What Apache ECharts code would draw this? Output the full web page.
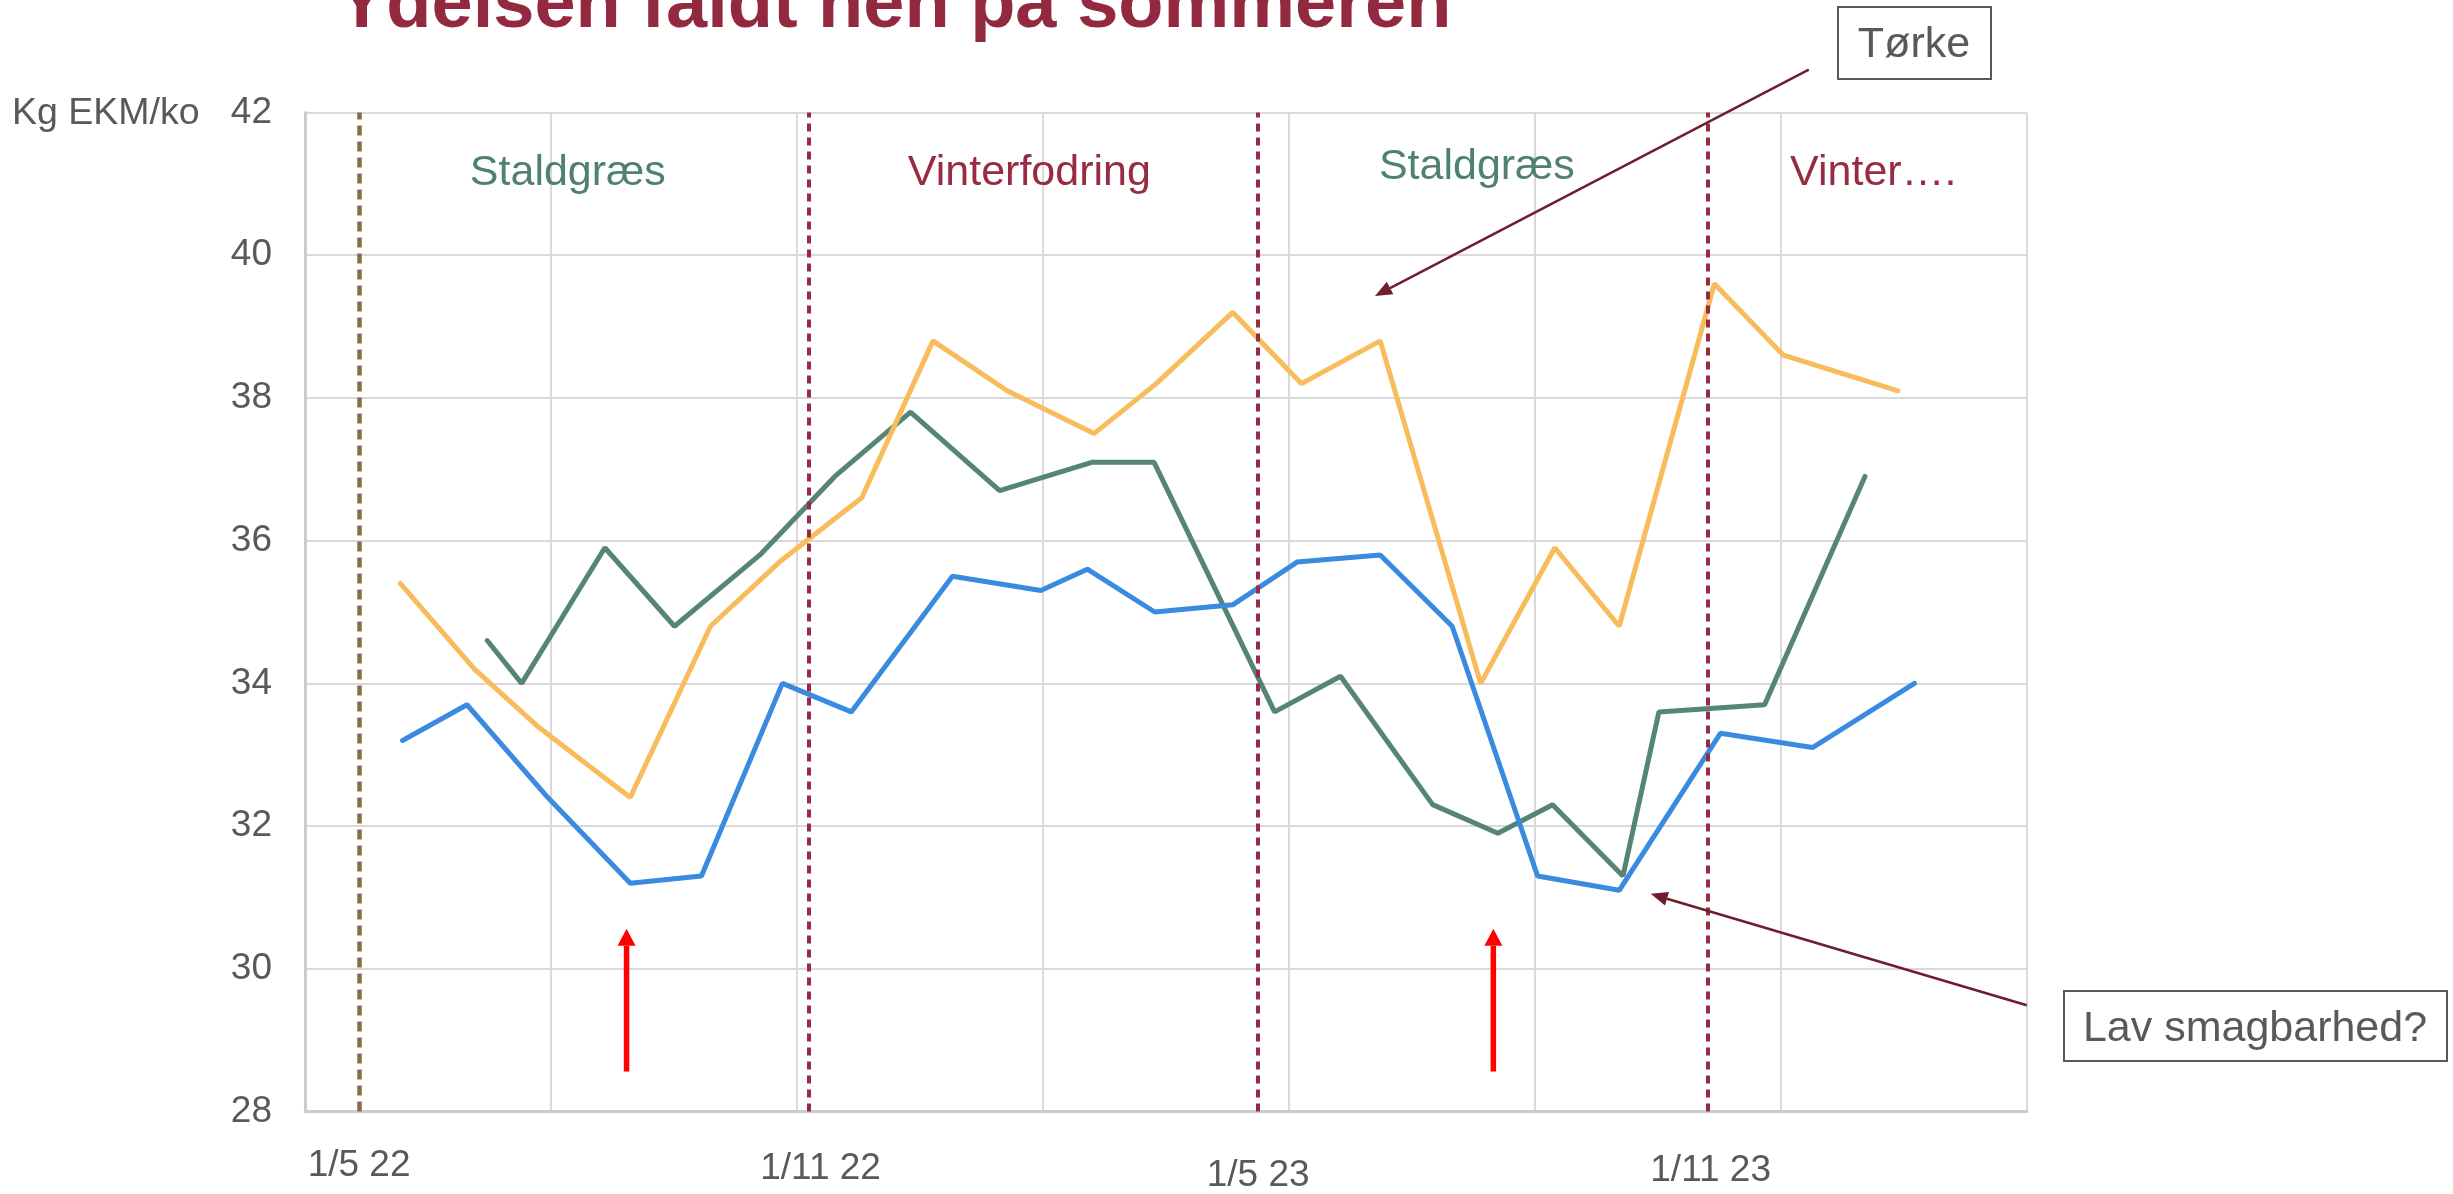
<!DOCTYPE html>
<html>
<head>
<meta charset="utf-8">
<title>Ydelsen faldt hen på sommeren</title>
<script src="https://cdn.jsdelivr.net/npm/echarts@6/dist/echarts.min.js"></script>
<style>
  html, body { margin: 0; padding: 0; background: #fff; }
  #chart { width: 2453px; height: 1194px; }
</style>
</head>
<body>
<div id="chart"></div>
<script>
  // x = maaned talt fra jan 2022 (maj 22 = 4), y = kg EKM/ko
  const blueMonths = [4.58, 5.44, 6.52, 7.62, 8.57, 9.65, 10.57, 11.92, 13.10, 13.72, 14.62, 15.66, 16.52, 17.63, 18.59, 19.73, 20.82, 22.17, 23.40, 24.76]
  const blueKg = [33.2, 33.7, 32.4, 31.2, 31.3, 34.0, 33.6, 35.5, 35.3, 35.6, 35.0, 35.1, 35.7, 35.8, 34.8, 31.3, 31.1, 33.3, 33.1, 34.0]
  const orangeMonths = [4.55, 5.54, 6.38, 7.62, 8.69, 9.61, 10.71, 11.66, 12.65, 13.81, 14.64, 15.66, 16.58, 17.63, 18.97, 19.96, 20.82, 22.09, 23.01, 24.54]
  const orangeKg = [35.4, 34.2, 33.4, 32.4, 34.8, 35.7, 36.6, 38.8, 38.1, 37.5, 38.2, 39.2, 38.2, 38.8, 34.0, 35.9, 34.8, 39.6, 38.6, 38.1]
  const greenMonths = [5.71, 6.17, 7.28, 8.21, 9.35, 10.35, 11.36, 12.55, 13.79, 14.61, 16.22, 17.10, 18.33, 19.20, 19.93, 20.87, 21.35, 22.76, 24.10]
  const greenKg = [34.6, 34.0, 35.9, 34.8, 35.8, 36.9, 37.8, 36.7, 37.1, 37.1, 33.6, 34.1, 32.3, 31.9, 32.3, 31.3, 33.6, 33.7, 36.9]

  const periodStarts = [4, 10, 16, 22]
  const periodTicks = ['1/5 22', '1/11 22', '1/5 23', '1/11 23']
  const periodNames = ['Staldgræs', 'Vinterfodring', 'Staldgræs', 'Vinter….']

  const titleText = 'Ydelsen faldt hen på sommeren'
  const yName = 'Kg EKM/ko'
  const droughtText = 'Tørke'
  const tasteText = 'Lav smagbarhed?'
  // pile: [fra, til] i (maaned, kg)
  const droughtArrow = [[23.35, 42.60], [17.56, 39.43]]
  const tasteArrow = [[26.26, 29.49], [21.24, 31.05]]
  const redArrows = [[[7.57, 28.56], [7.57, 30.56]], [[19.14, 28.56], [19.14, 30.56]]]

  const xMin = 3.278
  const xMax = 26.263
  const font = '"Liberation Sans", Arial, sans-serif'
  const grey = '#595959'
  const wine = '#972B3F'
  const periodColors = ['#4F8170', wine, '#4F8170', wine]
  const periodOffsets = [[-16, 0], [-4, 0], [-6, -6], [6, 0]]
  const dashColors = ['#8E6A45', wine, wine, wine]

  const pairs = (xs, ys) => xs.map((x, i) => [x, ys[i]])

  const chart = echarts.init(document.getElementById('chart'))

  const option = {
    animation: false,
    backgroundColor: '#fff',
    grid: { left: 305, right: 426, top: 112.5, bottom: 77 },
    xAxis: [{
      type: 'value',
      min: xMin,
      max: xMax,
      axisLine: { show: true, lineStyle: { color: '#cccccc', width: 3 } },
      axisTick: { show: false },
      splitLine: { show: false },
      axisLabel: {
        customValues: periodStarts,
        margin: 34,
        color: grey,
        fontSize: 37,
        fontFamily: font,
        formatter: val => {
          const i = periodStarts.indexOf(val)
          return '{t' + i + '|' + periodTicks[i] + '}'
        },
        rich: {
          t0: { lineHeight: 41, fontSize: 37, color: grey, fontFamily: font },
          t1: { lineHeight: 47, fontSize: 37, color: grey, fontFamily: font, padding: [0, 0, 0, 24] },
          t2: { lineHeight: 60, fontSize: 37, color: grey, fontFamily: font },
          t3: { lineHeight: 51, fontSize: 37, color: grey, fontFamily: font, padding: [0, 0, 0, 6] }
        }
      }
    }, {
      // kun lodrette gitterlinjer
      type: 'value',
      min: 0,
      max: 7,
      interval: 1,
      position: 'bottom',
      axisLine: { show: false },
      axisTick: { show: false },
      axisLabel: { show: false },
      splitLine: { show: true, lineStyle: { color: '#d9d9d9', width: 2 } }
    }],
    yAxis: {
      type: 'value',
      min: 28,
      max: 42,
      interval: 2,
      axisLine: { show: true, lineStyle: { color: '#cccccc', width: 3 } },
      axisTick: { show: false },
      axisLabel: { margin: 33, color: grey, fontSize: 37, fontFamily: font },
      splitLine: { lineStyle: { color: '#d9d9d9', width: 2 } }
    },
    series: [{
      name: 'green',
      type: 'line',
      data: pairs(greenMonths, greenKg),
      symbol: 'none',
      lineStyle: { color: '#558675', width: 5, cap: 'round' },
      itemStyle: { color: '#558675' },
      markArea: {
        silent: true,
        itemStyle: { color: 'rgba(0,0,0,0)' },
        label: { position: ['50%', 61], align: 'center', verticalAlign: 'middle', fontSize: 43, fontFamily: font },
        data: periodStarts.map((s, i) => [
          { xAxis: s, name: periodNames[i], label: { color: periodColors[i], offset: periodOffsets[i] } },
          { xAxis: i < periodStarts.length - 1 ? periodStarts[i + 1] : xMax }
        ])
      }
    }, {
      name: 'orange',
      type: 'line',
      data: pairs(orangeMonths, orangeKg),
      symbol: 'none',
      lineStyle: { color: '#F8BC5C', width: 5, cap: 'round' },
      itemStyle: { color: '#F8BC5C' }
    }, {
      name: 'blue',
      type: 'line',
      data: pairs(blueMonths, blueKg),
      symbol: 'none',
      lineStyle: { color: '#3A8BDF', width: 5, cap: 'round' },
      itemStyle: { color: '#3A8BDF' },
      markLine: {
        silent: true,
        symbol: 'none',
        label: { show: false },
        data: periodStarts.map((s, i) => ({
          xAxis: s,
          lineStyle: { color: dashColors[i], width: i === 0 ? 4.5 : 4, type: i === 0 ? [10, 6] : [8, 6] }
        }))
      }
    }]
  }

  chart.setOption(option)

  function arrow(from, to, color, width, headLen, headW) {
    const a = chart.convertToPixel({ xAxisIndex: 0, yAxisIndex: 0 }, from)
    const b = chart.convertToPixel({ xAxisIndex: 0, yAxisIndex: 0 }, to)
    const dx = b[0] - a[0]
    const dy = b[1] - a[1]
    const len = Math.sqrt(dx * dx + dy * dy)
    const ux = dx / len
    const uy = dy / len
    const bx = b[0] - ux * headLen
    const by = b[1] - uy * headLen
    return [{
      type: 'line', silent: true, z: 50,
      shape: { x1: a[0], y1: a[1], x2: bx, y2: by },
      style: { stroke: color, lineWidth: width }
    }, {
      type: 'polygon', silent: true, z: 50,
      shape: { points: [[b[0], b[1]], [bx - uy * headW / 2, by + ux * headW / 2], [bx + uy * headW / 2, by - ux * headW / 2]] },
      style: { fill: color }
    }]
  }

  const graphic = [{
    type: 'text', x: 337, y: 7, z: 50,
    style: { text: titleText, font: 'bold 74px ' + font, fill: '#93293F', align: 'left', verticalAlign: 'middle' }
  }, {
    type: 'text', x: 12, y: 114, z: 50,
    style: { text: yName, font: '37.5px ' + font, fill: grey, align: 'left', verticalAlign: 'middle' }
  }, {
    type: 'rect', z: 50,
    shape: { x: 1838, y: 7, width: 153, height: 72 },
    style: { fill: '#fff', stroke: grey, lineWidth: 2 }
  }, {
    type: 'text', x: 1914, y: 45, z: 51,
    style: { text: droughtText, font: '43px ' + font, fill: grey, align: 'center', verticalAlign: 'middle' }
  }, {
    type: 'rect', z: 50,
    shape: { x: 2064, y: 991, width: 383, height: 70 },
    style: { fill: '#fff', stroke: grey, lineWidth: 2 }
  }, {
    type: 'text', x: 2255, y: 1029, z: 51,
    style: { text: tasteText, font: '43px ' + font, fill: grey, align: 'center', verticalAlign: 'middle' }
  }]
    .concat(arrow(droughtArrow[0], droughtArrow[1], '#6E1F2B', 2.5, 17, 14))
    .concat(arrow(tasteArrow[0], tasteArrow[1], '#6E1F2B', 2.5, 17, 14))
    .concat(redArrows.flatMap(r => arrow(r[0], r[1], '#FF0000', 5.5, 17, 18)))

  chart.setOption({ graphic: graphic })
</script>
</body>
</html>
